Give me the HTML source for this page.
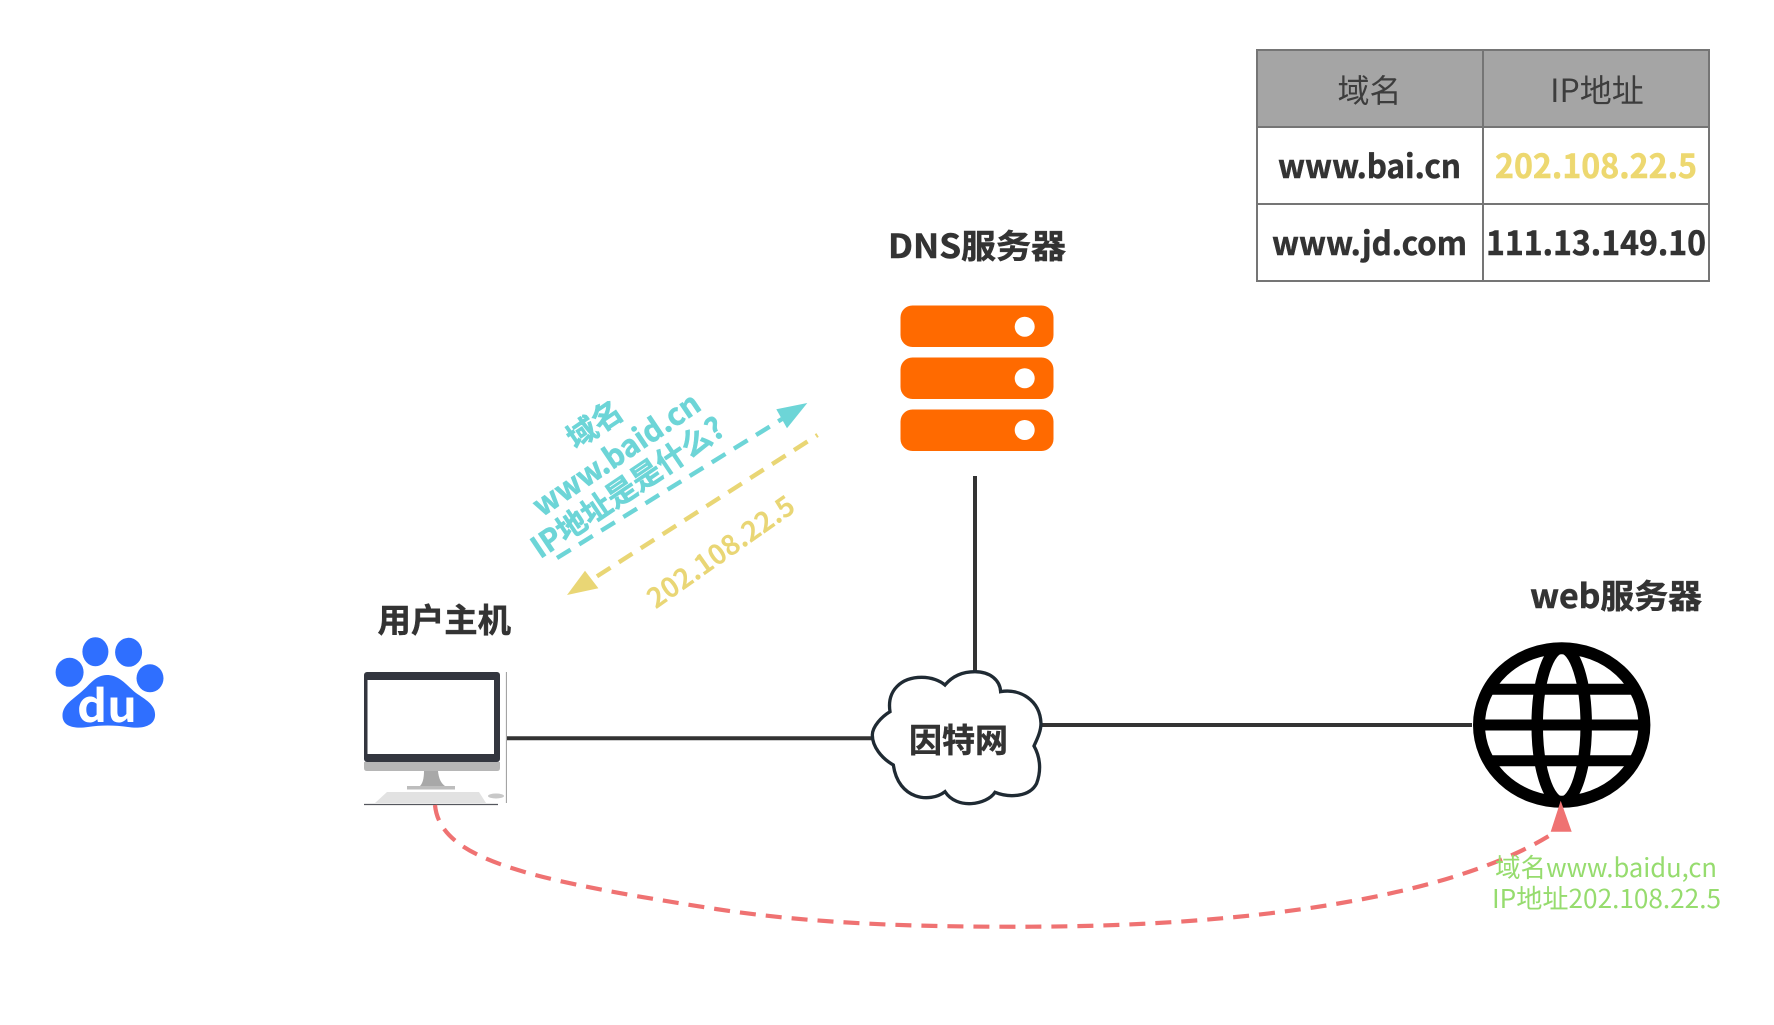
<!DOCTYPE html>
<html lang="zh">
<head>
<meta charset="utf-8">
<title>DNS</title>
<style>
html,body{margin:0;padding:0;background:#fff;width:1774px;height:1025px;overflow:hidden}
svg{display:block;position:absolute;left:0;top:0}
text{font-family:"Noto Sans CJK SC","Liberation Sans",sans-serif}
.b{font-weight:700;fill:#333;stroke:#333;stroke-width:.5}
</style>
</head>
<body>
<svg width="1774" height="1025" viewBox="0 0 1774 1025" xmlns="http://www.w3.org/2000/svg">
<defs>
<clipPath id="gc"><ellipse cx="1561.7" cy="725" rx="84" ry="78"/></clipPath>
</defs>

<!-- table -->
<rect x="1257" y="50" width="452" height="77" fill="#a5a5a5"/>
<g stroke="#757575" stroke-width="2" fill="none">
<rect x="1257" y="50" width="452" height="231"/>
<line x1="1483" y1="50" x2="1483" y2="281"/>
<line x1="1257" y1="127" x2="1709" y2="127"/>
<line x1="1257" y1="204" x2="1709" y2="204"/>
</g>
<text x="1369.5" y="102" text-anchor="middle" font-size="32" fill="#3d3d3d">域名</text>
<text x="1597" y="102" text-anchor="middle" font-size="32" fill="#3d3d3d">IP地址</text>
<text class="b" x="1278" y="178" font-size="32" textLength="183" lengthAdjust="spacingAndGlyphs">www.bai.cn</text>
<text x="1495" y="178" font-size="33" font-weight="700" fill="#edd870" stroke="#edd870" stroke-width=".5" textLength="202" lengthAdjust="spacingAndGlyphs">202.108.22.5</text>
<text class="b" x="1272" y="255" font-size="32" textLength="195" lengthAdjust="spacingAndGlyphs">www.jd.com</text>
<text class="b" x="1486" y="255" font-size="33" textLength="220" lengthAdjust="spacingAndGlyphs">111.13.149.10</text>

<!-- DNS server -->
<text class="b" x="888" y="258" font-size="33" textLength="178" lengthAdjust="spacingAndGlyphs">DNS服务器</text>
<g fill="#ff6a00">
<rect x="900.5" y="305.5" width="153" height="41.5" rx="12"/>
<rect x="900.5" y="357.5" width="153" height="41.5" rx="12"/>
<rect x="900.5" y="409.5" width="153" height="41.5" rx="12"/>
</g>
<g fill="#fff">
<circle cx="1024.7" cy="326.7" r="10"/>
<circle cx="1024.7" cy="378.3" r="10"/>
<circle cx="1024.7" cy="430" r="10"/>
</g>

<!-- solid links -->
<g stroke="#333" stroke-width="4" fill="none">
<line x1="975" y1="476" x2="975" y2="672"/>
<line x1="507" y1="738.3" x2="874" y2="738.3"/>
<line x1="1040" y1="725" x2="1472" y2="725"/>
</g>

<!-- cloud -->
<g transform="translate(840 640) scale(.3333)">
<path d="M150,215 C140,150 185,112 245,112 C275,112 300,122 315,135 C340,105 370,95 405,95 C450,95 480,120 482,155 C540,145 600,180 603,250 C603,275 590,300 582,318 C600,350 605,390 590,430 C570,470 510,475 465,457 C440,495 350,510 315,455 C270,490 175,480 160,375 C125,355 97,320 97,285 C97,260 125,230 150,215 Z" fill="#fff" stroke="#1f2a33" stroke-width="10"/>
</g>
<text class="b" x="909" y="752" font-size="33" textLength="99" lengthAdjust="spacingAndGlyphs">因特网</text>

<!-- cyan arrow -->
<line x1="557" y1="558" x2="782" y2="419" stroke="#6dd5d7" stroke-width="4.4" stroke-dasharray="16 10"/>
<polygon points="807.3,403 776.3,409.3 787,428.3" fill="#6dd5d7"/>
<!-- yellow arrow -->
<line x1="817.6" y1="435" x2="592" y2="579.5" stroke="#e9d675" stroke-width="4.4" stroke-dasharray="16 10" stroke-dashoffset="14"/>
<polygon points="567,595 585,570.7 598.4,588.3" fill="#e9d675"/>

<!-- rotated labels -->
<g font-size="30" font-weight="700" fill="#6dd5d7" stroke="#6dd5d7" stroke-width=".6" text-anchor="middle">
<text transform="translate(595 425) rotate(-34) translate(0 10)">域名</text>
<text transform="translate(616.7 455) rotate(-34) translate(0 10)">www.baid.cn</text>
<text transform="translate(628 488) rotate(-34) translate(0 10)">IP地址是是什么?</text>
</g>
<text transform="translate(720.8 551.7) rotate(-35) translate(0 10)" font-size="27.5" font-weight="700" fill="#e9d675" text-anchor="middle">202.108.22.5</text>

<!-- baidu -->
<g fill="#2f6fff">
<ellipse cx="95.4" cy="651.7" rx="13" ry="14.5"/>
<ellipse cx="128.6" cy="652.3" rx="13.5" ry="14.5"/>
<ellipse cx="69.6" cy="672.3" rx="14" ry="14.5"/>
<ellipse cx="150" cy="678.3" rx="13.5" ry="14"/>
<path d="M107,675 C120,675 127,686 136,693 C146,700 156,705 155,716 C154,727 140,729 128,727 C115,725 100,725 88,727 C75,729 62,727 62.5,715 C63,705 72,700 80,693 C90,685 95,675 107,675 Z"/>
</g>
<text x="107" y="722" text-anchor="middle" font-size="44" font-weight="700" fill="#fff" textLength="60" lengthAdjust="spacingAndGlyphs">du</text>

<!-- computer -->
<text class="b" x="377.5" y="632" font-size="33" textLength="133.5" lengthAdjust="spacingAndGlyphs">用户主机</text>
<rect x="364" y="672" width="136" height="90" rx="3" fill="#33363f"/>
<rect x="367.5" y="680" width="126.5" height="74" fill="#fff"/>
<path d="M364,762 H500 V768 Q500,771 497,771 H367 Q364,771 364,768 Z" fill="#b6b6b6"/>
<path d="M424,771 H438 Q439,782 445,786 H420 Q424,782 424,771 Z" fill="#a8a8a8"/>
<rect x="407" y="786" width="48" height="3.5" fill="#bdbdbd"/>
<polygon points="387,792 479,792 486,803 375,803" fill="#e2e2e2"/>
<ellipse cx="496" cy="796" rx="8" ry="2.5" fill="#c8c8c8"/>
<line x1="364" y1="804.5" x2="498" y2="804.5" stroke="#55575e" stroke-width="1.2"/>
<line x1="506.4" y1="672" x2="506.4" y2="803" stroke="#9a9a9a" stroke-width="1"/>

<!-- globe -->
<text class="b" x="1530" y="608" font-size="33" textLength="172" lengthAdjust="spacingAndGlyphs">web服务器</text>
<g stroke="#000" fill="none" stroke-width="12">
<ellipse cx="1561.7" cy="725" rx="82.7" ry="76.8"/>
<g clip-path="url(#gc)">
<ellipse cx="1561.7" cy="725" rx="24.5" ry="77" stroke-width="11.5"/>
<line x1="1470" y1="689.3" x2="1650" y2="689.3" stroke-width="11"/>
<line x1="1470" y1="725" x2="1650" y2="725" stroke-width="11"/>
<line x1="1470" y1="760.7" x2="1650" y2="760.7" stroke-width="11"/>
</g>
</g>

<!-- red dashed link -->
<path d="M435,805 C440,860 530,880 716,909 C820,925 930,927 1031.6,926.7 C1240,926 1450,900 1555.7,831.7" fill="none" stroke="#ef7272" stroke-width="4.2" stroke-dasharray="16 10"/>
<polygon points="1560.7,800.7 1550.7,831.7 1571.7,831.7" fill="#ef7272"/>

<!-- green label -->
<g font-size="26" fill="#96dc6e">
<text x="1495" y="877" textLength="222" lengthAdjust="spacingAndGlyphs">域名www.baidu,cn</text>
<text x="1492" y="908" textLength="229" lengthAdjust="spacingAndGlyphs">IP地址202.108.22.5</text>
</g>
</svg>
</body>
</html>
